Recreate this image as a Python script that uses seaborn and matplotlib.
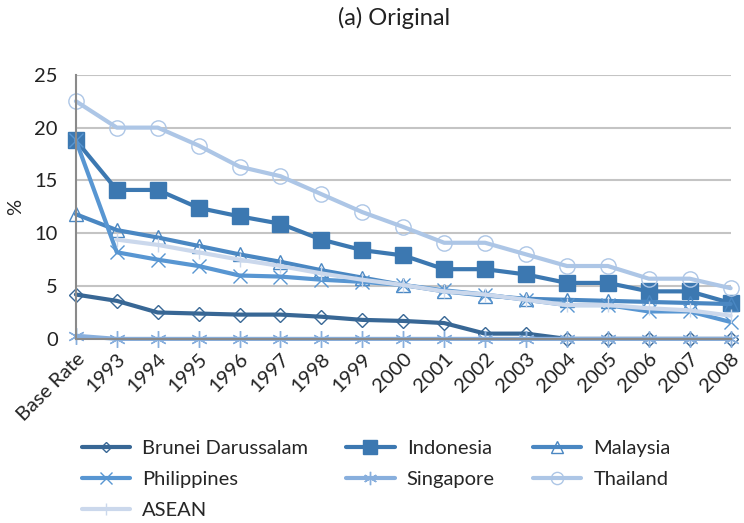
import numpy as np
import pandas as pd
import matplotlib.pyplot as plt
import seaborn as sns

sns.set_style("white")
plt.rcParams["font.family"] = ["Lato", "DejaVu Sans"]

# x categories
periods = ["Base Rate", "1993", "1994", "1995", "1996", "1997", "1998", "1999",
           "2000", "2001", "2002", "2003", "2004", "2005", "2006", "2007", "2008"]

# tariff rates (%)
brunei = [4.2, 3.6, 2.5, 2.4, 2.3, 2.3, 2.1, 1.8, 1.7, 1.5, 0.5, 0.5, 0, 0, 0, 0, 0]
indonesia = [18.8, 14.1, 14.1, 12.4, 11.6, 10.9, 9.4, 8.4, 7.9, 6.6, 6.6, 6.1, 5.3, 5.3, 4.5, 4.5, 3.4]
malaysia = [11.8, 10.3, 9.6, 8.8, 8.0, 7.3, 6.5, 5.8, 5.1, 4.5, 4.1, 3.8, 3.7, 3.6, 3.5, 3.4, 3.3]
philippines = [18.8, 8.2, 7.5, 6.9, 6.0, 5.9, 5.6, 5.4, 5.1, 4.6, 4.2, 3.7, 3.2, 3.2, 2.6, 2.6, 1.6]
singapore = [0.3, 0, 0, 0, 0, 0, 0, 0, 0, 0, 0, 0, 0, 0, 0, 0, 0]
thailand = [22.5, 20.0, 20.0, 18.3, 16.3, 15.4, 13.7, 12.0, 10.6, 9.1, 9.1, 8.0, 6.9, 6.9, 5.7, 5.7, 4.8]
asean = [np.nan, 9.4, 8.9, 8.2, 7.5, 6.9, 6.2, 5.6, 5.1, 4.5, 4.2, 3.7, 3.2, 3.2, 2.9, 2.7, 2.2]

series = [
    ("Brunei Darussalam", brunei, "#386795", "D", "none", 7),
    ("Indonesia", indonesia, "#3c78b1", "s", "#3c78b1", 12),
    ("Malaysia", malaysia, "#4a87c2", "^", "none", 10),
    ("Philippines", philippines, "#5896d2", "x", "none", 10),
    ("Singapore", singapore, "#88afdd", (6, 2, 0), "none", 12),
    ("Thailand", thailand, "#adc6e6", "o", "none", 11),
    ("ASEAN", asean, "#cbd8ec", "|", "none", 10),
]

fig, ax = plt.subplots(figsize=(7.44, 5.23), dpi=100)
fig.subplots_adjust(left=0.102, right=0.982, top=0.857, bottom=0.352)

x = np.arange(len(periods))
for name, vals, color, marker, face, ms in series:
    sns.lineplot(x=x, y=vals, ax=ax, color=color, lw=3, label=name,
                 marker=marker, markersize=ms, markerfacecolor=face,
                 markeredgecolor=color, markeredgewidth=1.0, clip_on=False)

ax.set_xlim(0, len(periods) - 1)
ax.set_ylim(0, 25)
ax.set_yticks([0, 5, 10, 15, 20, 25])
ax.set_xticks(x)
ax.set_xticklabels(periods, rotation=45, ha="right", rotation_mode="anchor")
ax.tick_params(axis="both", labelsize=14.5, colors="#222222", length=0)
ax.tick_params(axis="y", pad=13)
ax.tick_params(axis="x", pad=8)
ax.grid(axis="y", color="#c4c4c4", lw=1.5)
ax.set_axisbelow(True)
for s in ["top", "right"]:
    ax.spines[s].set_visible(False)
ax.spines["left"].set_color("#8a8a8a")
ax.spines["bottom"].set_color("#8a8a8a")
ax.spines["left"].set_linewidth(1.5)
ax.spines["bottom"].set_linewidth(1.5)
ax.set_ylabel("%", fontsize=14.5, color="#222222", labelpad=7)
ax.set_xlabel("")
fig.text(0.53, 0.965, "(a) Original", fontsize=17, color="#222222",
         ha="center", va="center")

# row-major legend order for a column-filled 3-column legend
handles, labels = ax.get_legend_handles_labels()
order = [0, 3, 6, 1, 4, 2, 5]
ax.legend([handles[i] for i in order], [labels[i] for i in order],
          loc="upper left", bbox_to_anchor=(-0.019, -0.314), ncol=3, frameon=False,
          fontsize=14.5, handlelength=2.4, handletextpad=0.6,
          columnspacing=1.9, labelspacing=0.7, markerscale=0.8)

fig.savefig("out.png", dpi=100)
